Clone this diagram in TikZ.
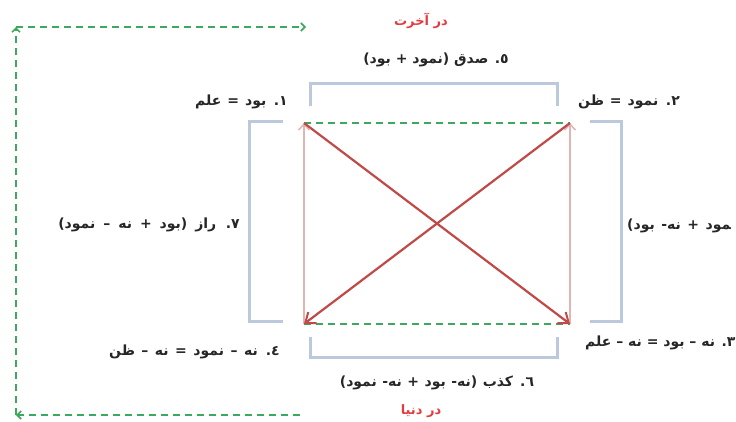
\documentclass[tikz,border=0pt]{standalone}
\usepackage{fontspec}
\newfontfamily\arabicfont[Script=Arabic]{DejaVu Sans}
\TeXXeTstate=1
\usetikzlibrary{arrows.meta}
\definecolor{gdash}{HTML}{3DA85E}
\definecolor{diagred}{HTML}{BF4A47}
\definecolor{pinkline}{HTML}{E3B4B4}
\definecolor{brack}{HTML}{BCC9DC}
\definecolor{titlered}{HTML}{E33B3F}
\tikzset{
  greendash/.style={draw=gdash, line width=1.8pt, dash pattern=on 7pt off 5pt},
  outerarrow/.style={greendash, -{Straight Barb[length=4pt,width=8pt,line width=1.6pt]}},
  diagarrow/.style={draw=diagred, line width=2.2pt, -{Straight Barb[length=9pt,width=14pt,line width=2pt]}},
  pinkarrow/.style={draw=pinkline, line width=1.6pt, -{Straight Barb[length=6pt,width=11pt,line width=1.5pt]}},
  bracket/.style={draw=brack, line width=3pt},
  lbl/.style={font=\arabicfont\bfseries\fontsize{14}{16}\selectfont, inner sep=1pt, text=black!85},
  ttl/.style={font=\arabicfont\bfseries\fontsize{13}{15}\selectfont, inner sep=1pt, text=titlered}
}
\begin{document}
\begin{tikzpicture}[x=1pt,y=-1pt]
\useasboundingbox (0,0) rectangle (736,421);
% square corners
\coordinate (TL) at (304,123);
\coordinate (TR) at (570,123);
\coordinate (BL) at (304,324);
\coordinate (BR) at (570,324);
% outer loop
\coordinate (O1) at (300,415);
\coordinate (O2) at (16,415);
\coordinate (O3) at (16,27);
\coordinate (O4) at (306,27);
\draw[outerarrow] (O1) -- (O2);
\draw[outerarrow] (O2) -- (O3);
\draw[outerarrow] (O3) -- (O4);
% brackets
\coordinate (ta) at (310,106); \coordinate (tb) at (310,83); \coordinate (tc) at (557,83); \coordinate (td) at (557,106);
\coordinate (ba) at (310,337); \coordinate (bb) at (310,357); \coordinate (bc) at (557,357); \coordinate (bd) at (557,337);
\coordinate (la) at (283,121); \coordinate (lb) at (249,121); \coordinate (lc) at (249,321); \coordinate (ld) at (283,321);
\coordinate (ra) at (590,121); \coordinate (rb) at (621,121); \coordinate (rc) at (621,321); \coordinate (rd) at (590,321);
\draw[bracket] (ta) -- (tb) -- (tc) -- (td);
\draw[bracket] (ba) -- (bb) -- (bc) -- (bd);
\draw[bracket] (la) -- (lb) -- (lc) -- (ld);
\draw[bracket] (ra) -- (rb) -- (rc) -- (rd);
% square
\draw[pinkarrow] (BL) -- (TL);
\draw[pinkarrow] (BR) -- (TR);
\draw[greendash] (TL) -- (TR);
\draw[greendash] (BL) -- (BR);
\draw[diagarrow] (TL) -- (BR);
\draw[diagarrow] (TR) -- (BL);
% titles
\node[ttl] (t1) at (421,21) {\beginR در آخرت\endR};
\node[ttl] (t2) at (421,411) {\beginR در دنیا\endR};
% labels
\node[lbl] (l5) at (436,60) {\beginR ٥. صدق (نمود + بود)\endR};
\node[lbl] (l6) at (437,383) {\spaceskip=5.5pt\relax\beginR ٦. کذب (نه- بود + نه- نمود)\endR};
\node[lbl, anchor=east] (l1) at (289,102) {\spaceskip=6pt\relax\beginR ۱. بود = علم\endR};
\node[lbl, anchor=west] (l2) at (577,102) {\spaceskip=6pt\relax\beginR ۲. نمود = ظن\endR};
\node[lbl, anchor=east] (l7) at (241,225) {\spaceskip=8pt\relax\beginR ۷. راز (بود + نه – نمود)\endR};
\node[lbl, anchor=west] (l8) at (626,226) {\spaceskip=6.5pt\relax\beginR ‍مود + نه- بود)\endR};
\node[lbl, anchor=east] (l4) at (281,352) {\spaceskip=6.5pt\relax\beginR ٤. نه – نمود = نه – ظن\endR};
\node[lbl, anchor=west] (l3) at (584,343) {\beginR ۳. نه – بود = نه – علم\endR};
\end{tikzpicture}
\end{document}
